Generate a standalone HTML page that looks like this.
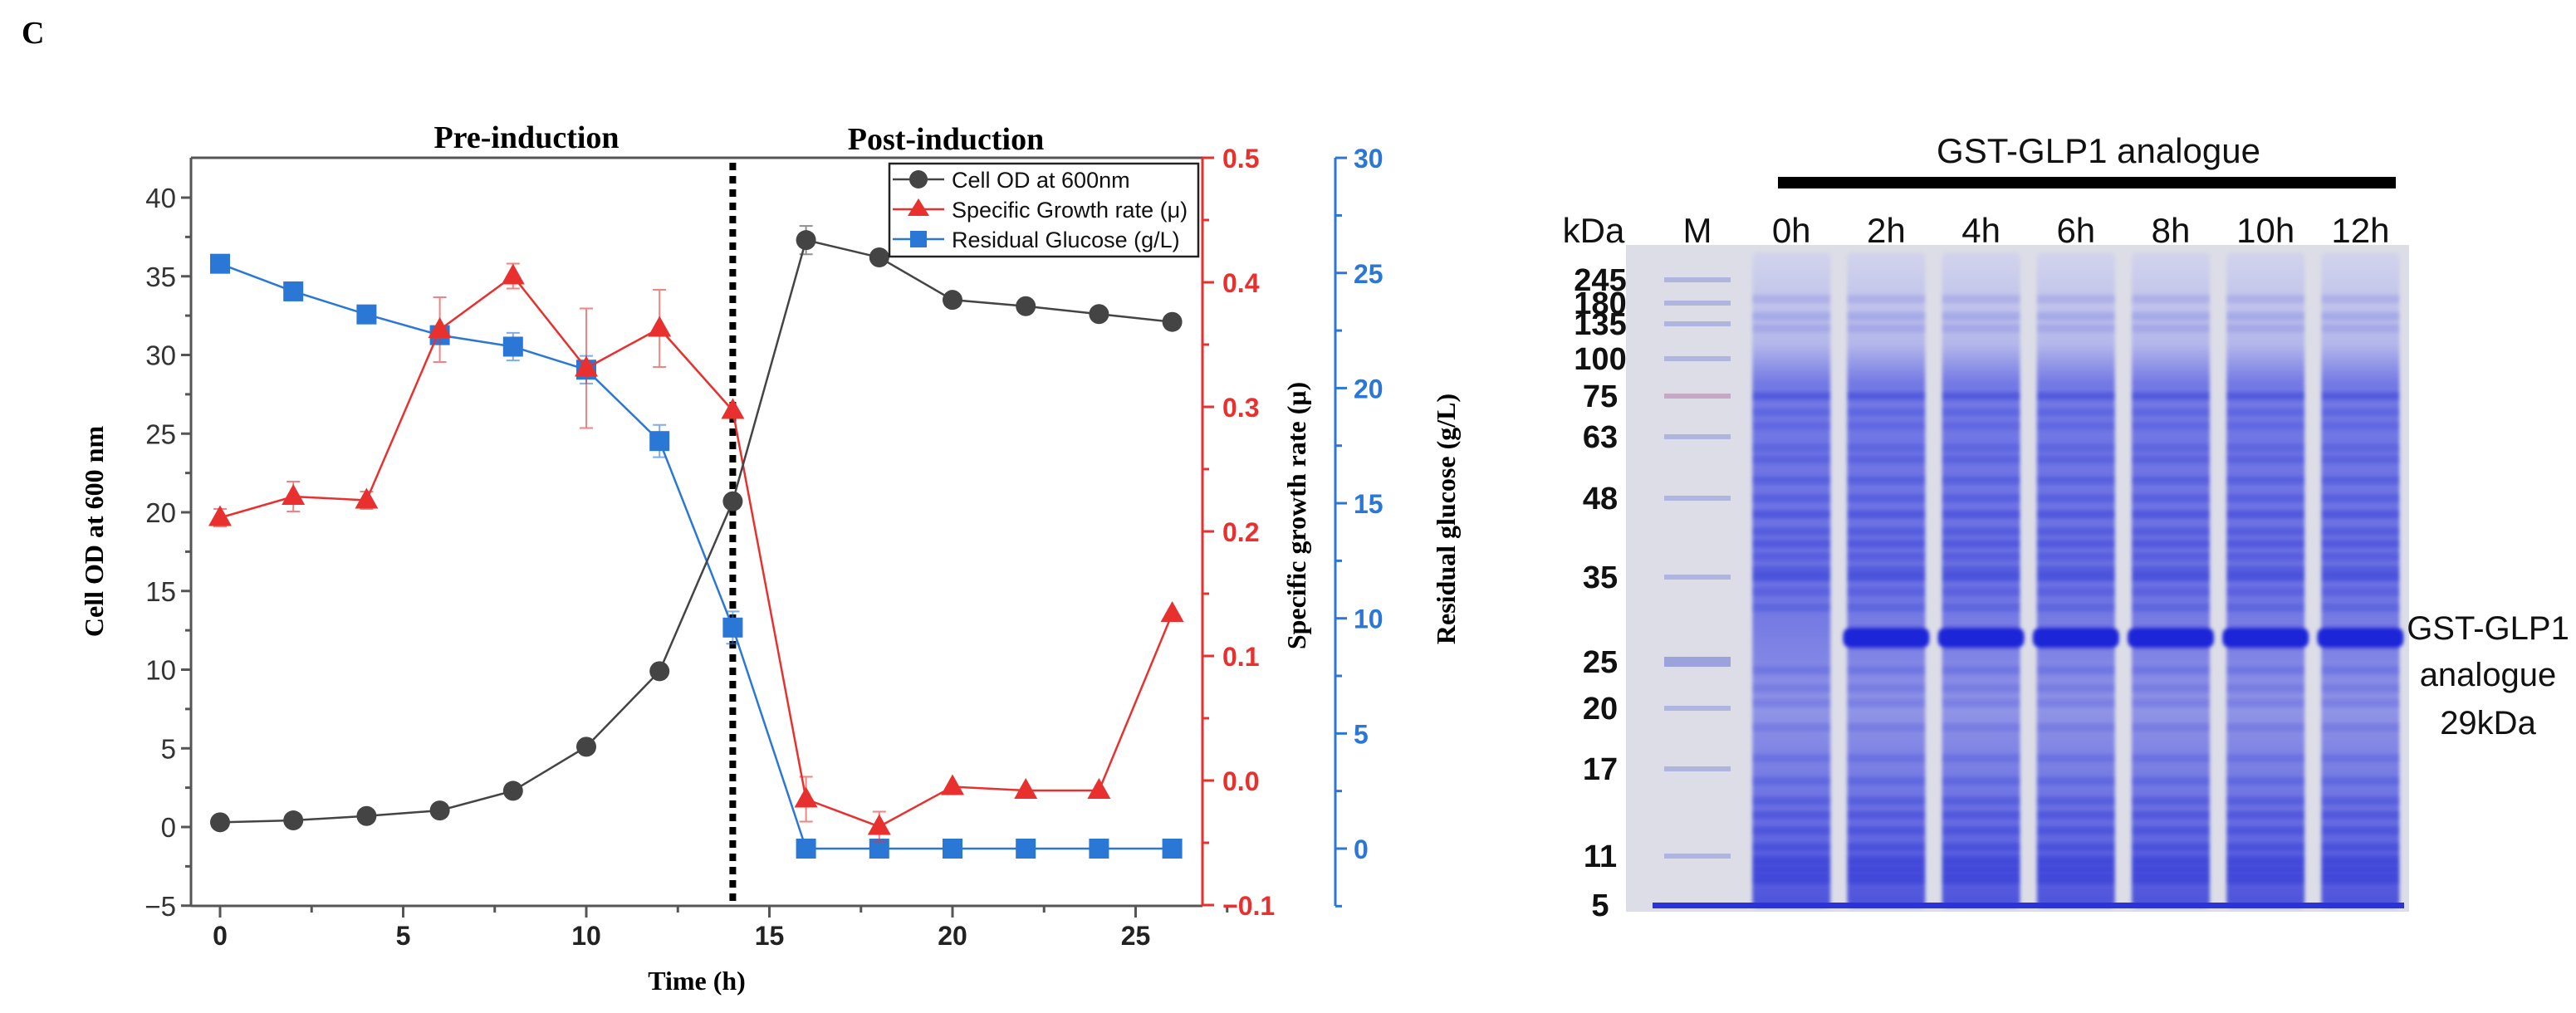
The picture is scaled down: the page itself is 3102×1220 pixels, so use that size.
<!DOCTYPE html>
<html><head><meta charset="utf-8">
<style>
html,body{margin:0;padding:0;background:#fff;}
svg{display:block;}
</style></head>
<body>
<svg id="fig" xmlns="http://www.w3.org/2000/svg" width="3102" height="1220" viewBox="0 0 3102 1220">
<rect width="3102" height="1220" fill="#fff"/>
<text x="26" y="52" font-family="Liberation Serif, serif" font-weight="bold" font-size="38">C</text>
<g id="chart"></g>
<g id="gel"></g>
</svg>
<script>
// ---------- chart data ----------
const times = [0,2,4,6,8,10,12,14,16,18,20,22,24,26];
const odValues = [0.3,0.42,0.7,1.05,2.3,5.1,9.9,20.7,37.3,36.2,33.5,33.1,32.6,32.1];
const odErrors = [0,0,0,0,0,0,0,0,0.9,0,0,0,0,0];
const muValues = [0.211,0.228,0.225,0.362,0.405,0.331,0.363,0.297,-0.015,-0.037,-0.005,-0.008,-0.008,0.134];
const muErrors = [0.007,0.012,0.007,0.026,0.01,0.048,0.031,0,0.018,0.012,0,0,0,0];
const glucoseValues = [25.4,24.2,23.2,22.3,21.8,20.8,17.7,9.6,0,0,0,0,0,0];
const glucoseErrors = [0,0,0,0,0.6,0.6,0.7,0.7,0,0,0,0,0,0];
const xTicks = [0,5,10,15,20,25];
const leftTicks = [-5,0,5,10,15,20,25,30,35,40];
const redTicks = [-0.1,0.0,0.1,0.2,0.3,0.4,0.5];
const blueTicks = [0,5,10,15,20,25,30];
const inductionTime = 14;

// ---------- gel data ----------
const laneLabels = ['M','0h','2h','4h','6h','8h','10h','12h'];
const markerLabels = ['245','180','135','100','75','63','48','35','25','20','17','11','5'];
const markerKda = [245,180,135,100,75,63,48,35,25,20,17,11,5];
const sampleBandKda = [190,150,130,75,70,66,60,57,52,48,45,42,40,38,36,35,33,31,24,22,20.5,19,17.5,16,14.5,13.5,12.5,11.5,10.5,9.5,8.5,7.5];
const sampleBandStrength = [0.3,0.35,0.3,0.9,0.5,0.45,0.5,0.55,0.65,0.6,0.85,0.7,0.8,0.6,0.7,0.95,0.55,0.55,0.45,0.4,0.4,0.4,0.45,0.55,0.65,0.75,0.75,0.8,0.85,0.8,0.85,0.9];
const gstKda = 27.5;

const NS = "http://www.w3.org/2000/svg";
function mk(tag, attrs, parent){const e=document.createElementNS(NS,tag);for(const k in attrs)e.setAttribute(k,attrs[k]);parent.appendChild(e);return e;}
const chart = document.getElementById('chart');
const L=230,R=1448,T=190,B=1091;
const xS = v => 265 + v*44.1;
const yL = v => 996 - v*18.95;
const yR = v => 940 - v*1500;
const yB = v => 1022 - v*27.73;
const RED="#e8312e", BLUE="#2a77d6", GREY="#444";

let a;
a=mk('line',{x1:L,y1:T,x2:L,y2:B,stroke:'#555','stroke-width':3},chart);


a=mk('line',{x1:L,y1:T,x2:R,y2:T,stroke:'#555','stroke-width':3},chart);


a=mk('line',{x1:L,y1:B,x2:R,y2:B,stroke:'#555','stroke-width':3},chart);


a=mk('line',{x1:R,y1:T,x2:R,y2:B,stroke:RED,'stroke-width':3},chart);


a=mk('line',{x1:1608,y1:T,x2:1608,y2:B,stroke:BLUE,'stroke-width':3},chart);



xTicks.forEach(v=>{
  mk('line',{x1:xS(v),y1:B,x2:xS(v),y2:B+14,stroke:'#555','stroke-width':3},chart);
  mk('line',{x1:xS(v+2.5),y1:B,x2:xS(v+2.5),y2:B+8,stroke:'#555','stroke-width':3},chart);
  const t=mk('text',{x:xS(v),y:1138,'text-anchor':'middle','font-family':'Liberation Sans, sans-serif','font-weight':'bold','font-size':32,fill:'#222'},chart);
  t.textContent=v;
  
  
});
leftTicks.forEach(v=>{
  mk('line',{x1:L-12,y1:yL(v),x2:L,y2:yL(v),stroke:'#555','stroke-width':3},chart);
  if(v<40) mk('line',{x1:L-7,y1:yL(v+2.5),x2:L,y2:yL(v+2.5),stroke:'#555','stroke-width':3},chart);
  const t=mk('text',{x:L-18,y:yL(v)+12,'text-anchor':'end','font-family':'Liberation Sans, sans-serif','font-size':33,fill:'#333'},chart);
  t.textContent=v<0?'\u2212'+(-v):v;
  
  
});
redTicks.forEach(v=>{
  mk('line',{x1:R,y1:yR(v),x2:R+14,y2:yR(v),stroke:RED,'stroke-width':3},chart);
  if(v<0.5) mk('line',{x1:R,y1:yR(v+0.05),x2:R+8,y2:yR(v+0.05),stroke:RED,'stroke-width':3},chart);
  const t=mk('text',{x:R+24,y:yR(v)+12,'font-family':'Liberation Sans, sans-serif','font-weight':'bold','font-size':32,fill:RED},chart);
  t.textContent=v<0?'\u2212'+(-v).toFixed(1):v.toFixed(1);
  
  
});
blueTicks.forEach(v=>{
  mk('line',{x1:1608,y1:yB(v),x2:1622,y2:yB(v),stroke:BLUE,'stroke-width':3},chart);
  if(v<30) mk('line',{x1:1608,y1:yB(v+2.5),x2:1616,y2:yB(v+2.5),stroke:BLUE,'stroke-width':3},chart);
  const t=mk('text',{x:1630,y:yB(v)+12,'font-family':'Liberation Sans, sans-serif','font-weight':'bold','font-size':32,fill:BLUE},chart);
  t.textContent=v;
  
  
});
mk('line',{x1:1608,y1:yB(-2.5),x2:1616,y2:yB(-2.5),stroke:BLUE,'stroke-width':3},chart);

function txt(par,s,attrs,name){const t=mk('text',attrs,par);t.textContent=s;return t;}
txt(chart,'Pre-induction',{x:634,y:178,'text-anchor':'middle','font-family':'Liberation Serif, serif','font-weight':'bold','font-size':38},'pre-induction-label');
txt(chart,'Post-induction',{x:1139,y:180,'text-anchor':'middle','font-family':'Liberation Serif, serif','font-weight':'bold','font-size':38},'post-induction-label');
txt(chart,'Time (h)',{x:839,y:1192,'text-anchor':'middle','font-family':'Liberation Serif, serif','font-weight':'bold','font-size':32},'x-axis-title');
txt(chart,'Cell OD at 600 nm',{x:0,y:0,'text-anchor':'middle','font-family':'Liberation Serif, serif','font-weight':'bold','font-size':32,transform:'translate(124,640) rotate(-90)'},'left-y-axis-title');
txt(chart,'Specific growth rate (\u03bc)',{x:0,y:0,'text-anchor':'middle','font-family':'Liberation Serif, serif','font-weight':'bold','font-size':32,transform:'translate(1572,621) rotate(-90)'},'red-y-axis-title');
txt(chart,'Residual glucose (g/L)',{x:0,y:0,'text-anchor':'middle','font-family':'Liberation Serif, serif','font-weight':'bold','font-size':32,transform:'translate(1752,625) rotate(-90)'},'blue-y-axis-title');

a=mk('line',{x1:xS(inductionTime),y1:T+6,x2:xS(inductionTime),y2:B,stroke:'#000','stroke-width':8,'stroke-dasharray':'9 7'},chart);



function series(vals,errs,ys,color,marker,name){
  const g=mk('g',{},chart);
  
  
  mk('polyline',{points:times.map((t,i)=>xS(t)+','+ys(vals[i])).join(' '),fill:'none',stroke:color,'stroke-width':2.5},g);
  times.forEach((t,i)=>{
    const x=xS(t),y=ys(vals[i]);
    if(errs[i]>0){
      const y1=ys(vals[i]+errs[i]),y2=ys(vals[i]-errs[i]);
      mk('path',{d:`M${x},${y1}V${y2}M${x-8},${y1}H${x+8}M${x-8},${y2}H${x+8}`,stroke:color,'stroke-opacity':0.6,'stroke-width':2,fill:'none'},g);
    }
    let m;
    if(marker==='circle') m=mk('circle',{cx:x,cy:y,r:12,fill:'#444'},g);
    else if(marker==='tri') m=mk('path',{d:`M${x},${y-15}L${x+14},${y+10}L${x-14},${y+10}Z`,fill:RED},g);
    else m=mk('rect',{x:x-12,y:y-12,width:24,height:24,fill:BLUE},g);
    
    
  });
}
series(glucoseValues,glucoseErrors,yB,BLUE,'sq','glucose');
series(muValues,muErrors,yR,RED,'tri','growth-rate');
series(odValues,odErrors,yL,GREY,'circle','cell-od');

const lg=mk('g',{},chart);


mk('rect',{x:1071,y:197,width:372,height:112,fill:'#fff',stroke:'#222','stroke-width':2.5},lg);
const legendItems=[['Cell OD at 600nm','#444','circle'],['Specific Growth rate (\u03bc)',RED,'tri'],['Residual Glucose (g/L)',BLUE,'sq']];
legendItems.forEach((it,i)=>{
  const y=216+i*36;
  mk('line',{x1:1075,y1:y,x2:1137,y2:y,stroke:it[1],'stroke-width':2.5},lg);
  if(it[2]==='circle') mk('circle',{cx:1106,cy:y,r:11,fill:'#444'},lg);
  else if(it[2]==='tri') mk('path',{d:`M1106,${y-13}L1119,${y+8}L1093,${y+8}Z`,fill:RED},lg);
  else mk('rect',{x:1096,y:y-10,width:20,height:20,fill:BLUE},lg);
  const t=mk('text',{x:1146,y:y+10,'font-family':'Liberation Sans, sans-serif','font-size':27,fill:'#111'},lg);
  t.textContent=it[0];
  
  
});

// ---------- gel drawing ----------
const gel=document.getElementById('gel');
const calK=[245,180,135,100,75,63,48,35,25,20,17,11,5];
const calY=[337,365,390,432,477,526,600,695,797,853,926,1031,1090];
function yK(k){
  for(let i=0;i<calK.length-1;i++){
    if(k<=calK[i]&&k>=calK[i+1]){const f=(Math.log(calK[i])-Math.log(k))/(Math.log(calK[i])-Math.log(calK[i+1]));return calY[i]+f*(calY[i+1]-calY[i]);}
  }
  return k>calK[0]?calY[0]:calY[calY.length-1];
}
const laneX = i => 2044 + (i===0?0:(i*114.2 - 1));
const defs=mk('defs',{},gel);
const grad=mk('linearGradient',{id:'laneGrad',x1:0,y1:0,x2:0,y2:1},defs);
mk('stop',{offset:'0','stop-color':'#d2d4ec'},grad);
mk('stop',{offset:'0.14','stop-color':'#b4b7ea'},grad);
mk('stop',{offset:'0.2','stop-color':'#7379e4'},grad);
mk('stop',{offset:'0.5','stop-color':'#6a70e2'},grad);
mk('stop',{offset:'0.7','stop-color':'#9094e6'},grad);
mk('stop',{offset:'0.85','stop-color':'#6a70e2'},grad);
mk('stop',{offset:'1','stop-color':'#4e55dc'},grad);
const blur=mk('filter',{id:'soft',x:'-5%',y:'-50%',width:'110%',height:'200%'},defs);
mk('feGaussianBlur',{stdDeviation:'2 2.5'},blur);

let bg=mk('rect',{x:1958,y:295,width:943,height:803,fill:'#dcdde6'},gel);



laneLabels.forEach((lab,i)=>{
  const cx=laneX(i);
  if(i>0){
    const lg2=mk('g',{filter:'url(#soft)'},gel);
    
    
    mk('rect',{x:cx-47,y:304,width:94,height:788,rx:6,fill:'url(#laneGrad)'},lg2);
    sampleBandKda.forEach((k,j)=>{
      const b=mk('rect',{x:cx-47,y:yK(k)-5,width:94,height:10,fill:'#2630d2','fill-opacity':sampleBandStrength[j]*0.45},lg2);
      
      
    });
    if(i>=2){
      const b=mk('rect',{x:cx-52,y:yK(gstKda)-13,width:104,height:26,rx:10,fill:'#1f27d8'},lg2);
      
      
    }
  } else {
    markerKda.slice(0,12).forEach((k,j)=>{
      const b=mk('rect',{x:cx-40,y:yK(k)-(k===25?6:3),width:80,height:k===25?12:6,fill:k===75?'#b57aa8':'#8c94d8','fill-opacity':k===25?0.8:0.55},gel);
      
      
    });
  }
  txt(gel,lab,{x:cx,y:292,'text-anchor':'middle','font-family':'Liberation Sans, sans-serif','font-size':42,fill:'#111'},'lane-label');
});
let bl=mk('rect',{x:1990,y:1087,width:905,height:7,fill:'#2a33d8'},gel);



markerLabels.forEach((lab,i)=>{
  txt(gel,lab,{x:1927,y:yK(markerKda[i])+13,'text-anchor':'middle','font-family':'Liberation Sans, sans-serif','font-weight':'bold','font-size':38,fill:'#111'},'marker-label');
});
txt(gel,'kDa',{x:1919,y:292,'text-anchor':'middle','font-family':'Liberation Sans, sans-serif','font-size':42,fill:'#111'},'kda-label');
txt(gel,'GST-GLP1 analogue',{x:2527,y:196,'text-anchor':'middle','font-family':'Liberation Sans, sans-serif','font-size':42,fill:'#111'},'gel-title');
let bar=mk('rect',{x:2141,y:213,width:744,height:14,fill:'#000'},gel);


txt(gel,'GST-GLP1',{x:2996,y:770,'text-anchor':'middle','font-family':'Liberation Sans, sans-serif','font-size':40,fill:'#111'},'band-annotation');
txt(gel,'analogue',{x:2996,y:826,'text-anchor':'middle','font-family':'Liberation Sans, sans-serif','font-size':40,fill:'#111'},'band-annotation');
txt(gel,'29kDa',{x:2996,y:884,'text-anchor':'middle','font-family':'Liberation Sans, sans-serif','font-size':40,fill:'#111'},'band-annotation');
</script>
</body></html>
